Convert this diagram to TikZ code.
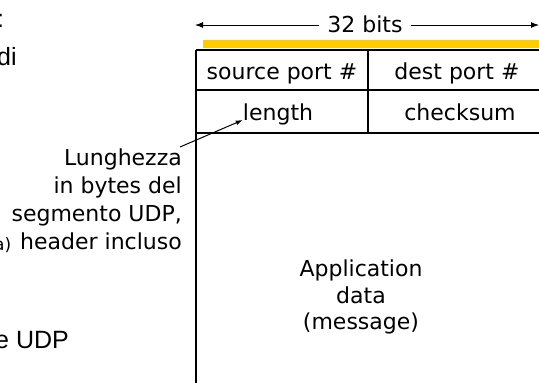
\documentclass[tikz,border=0pt]{standalone}
\usepackage{fontspec}
\setmainfont{DejaVu Sans}
\newfontfamily\slidefont{Liberation Sans}
\usetikzlibrary{arrows.meta}
\definecolor{barYellow}{RGB}{255,204,0}

\begin{document}
\begin{tikzpicture}[x=1pt,y=-1pt]
\tikzstyle{every node}+=[inner sep=0pt]
\tikzstyle{field}=[font=\fontsize{22}{26.5}\selectfont, anchor=base]
\tikzstyle{slide}=[font=\slidefont\fontsize{25}{30}\selectfont, anchor=base west]
\tikzstyle{frame}=[black, line width=2pt]
\tikzstyle{bitarrow}=[black, line width=1pt, -{Latex[length=8pt,width=6pt]}]
\useasboundingbox (0,0) rectangle (539,383);
% cut-off text of the slide
\node [slide] (colon) at (-3,27) {:};
\node [slide] (di) at (-3,65) {di};
\node [slide] (udp) at (-5,348) {e UDP};
\node [field, font=\fontsize{17}{20}\selectfont, anchor=base west] (paren) at (-6,250) {a)};
% width of the header
\node [field] (bits) at (365,32) {32 bits};
\coordinate (bitsl) at (195,25);
\coordinate (bitsr) at (539,25);
\draw [bitarrow] (bits.west |- bitsl) ++(-8,0) -- (bitsl);
\draw [bitarrow] (bits.east |- bitsr) ++(8,0) -- (bitsr);
\fill [barYellow] (203,40) rectangle (560,48);
% header frame
\draw [frame] (196,50) -- (560,50);
\draw [frame] (196,50) -- (196,400);
\draw [frame] (196,90) -- (560,90);
\draw [frame] (196,133) -- (560,133);
\draw [frame] (368,50) -- (368,133);
\node [field] (src) at (282,79) {source port \#};
\node [field] (dst) at (457,79) {dest port \#};
\node [field] (len) at (278,120) {length};
\node [field] (chk) at (460,120) {checksum};
\node [field, align=center, anchor=north] (data) at (361,260) {Application\\data\\(message)};
% note on the length field
\node [field, font=\fontsize{22}{28}\selectfont, align=right, anchor=north east] (lenlbl) at (182,149) {Lunghezza\\in bytes del\\segmento UDP,\\header incluso};
\coordinate (lentail) at (180,147);
\draw [black, line width=1pt, -{Latex[length=7pt,width=5pt]}] (lentail) -- (len.base west);
\end{tikzpicture}
\end{document}
